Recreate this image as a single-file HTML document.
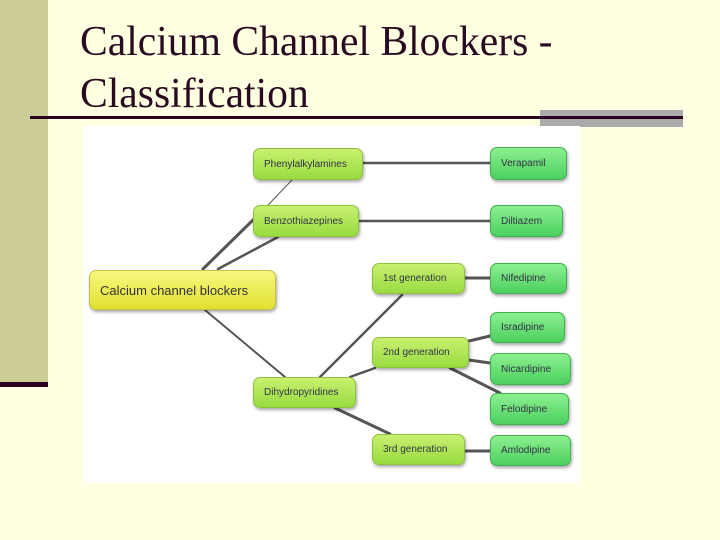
<!DOCTYPE html>
<html><head><style>
body{margin:0;width:720px;height:540px;background:#ffffe1;position:relative;overflow:hidden;font-family:"Liberation Sans",sans-serif}
.a{position:absolute}
.t{position:absolute;left:80px;font-family:"Liberation Serif",serif;font-size:40px;color:#2a0a22;white-space:nowrap;transform:scale(1.04,1.06);transform-origin:left top}
.b{position:absolute;box-sizing:border-box;border-radius:7px;font-size:10px;color:#334;padding-left:10px;display:flex;align-items:center;box-shadow:1px 2px 3px rgba(0,0,0,.35)}
.y{background:linear-gradient(#f8f880,#e0e030);border:1px solid #c8c040}
.g{background:linear-gradient(#c8f070,#98dc40);border:1px solid #90c040}
.G{background:linear-gradient(#8cf090,#4cd060);border:1px solid #40b050}
</style></head><body>
<div class="a" style="left:0;top:0;width:48px;height:382px;background:#cccc99"></div>
<div class="a" style="left:0;top:382px;width:48px;height:5px;background:#2a0022"></div>
<div class="t" style="top:16px">Calcium Channel Blockers -</div>
<div class="t" style="top:68px">Classification</div>
<div class="a" style="left:540px;top:110px;width:143px;height:17px;background:#aaaaaa"></div>
<div class="a" style="left:30px;top:116px;width:653px;height:3px;background:#2a0022"></div>
<div class="a" style="left:84px;top:126px;width:496px;height:357px;background:#fff"></div>
<svg class="a" style="left:0;top:0" width="720" height="540">
<g stroke="#555" fill="none" stroke-linecap="round">
<line x1="203" y1="269" x2="253" y2="220" stroke-width="3"/>
<line x1="218" y1="269" x2="278" y2="237" stroke-width="2.5"/>
<line x1="268" y1="205" x2="292" y2="180" stroke-width="1"/>
<line x1="205" y1="310" x2="285" y2="377" stroke-width="2"/>
<line x1="363" y1="163" x2="490" y2="163" stroke-width="2.5"/>
<line x1="359" y1="221" x2="490" y2="221" stroke-width="2.5"/>
<line x1="320" y1="377" x2="402" y2="295" stroke-width="2.5"/>
<line x1="350" y1="377" x2="375" y2="368" stroke-width="2.5"/>
<line x1="335" y1="408" x2="390" y2="434" stroke-width="3"/>
<line x1="465" y1="278" x2="490" y2="278" stroke-width="3"/>
<line x1="469" y1="341" x2="490" y2="336" stroke-width="3"/>
<line x1="469" y1="360" x2="490" y2="363" stroke-width="3"/>
<line x1="450" y1="368" x2="500" y2="393" stroke-width="3"/>
<line x1="465" y1="451" x2="490" y2="451" stroke-width="3"/>
</g></svg>
<div class="b y" style="left:89px;top:270px;width:187px;height:40px;font-size:13px;color:#333">Calcium channel blockers</div>
<div class="b g" style="left:253px;top:148px;width:110px;height:32px">Phenylalkylamines</div>
<div class="b g" style="left:253px;top:205px;width:106px;height:32px">Benzothiazepines</div>
<div class="b g" style="left:253px;top:377px;width:103px;height:31px">Dihydropyridines</div>
<div class="b g" style="left:372px;top:263px;width:93px;height:31px">1st generation</div>
<div class="b g" style="left:372px;top:337px;width:97px;height:31px">2nd generation</div>
<div class="b g" style="left:372px;top:434px;width:93px;height:31px">3rd generation</div>
<div class="b G" style="left:490px;top:147px;width:77px;height:33px">Verapamil</div>
<div class="b G" style="left:490px;top:205px;width:73px;height:32px">Diltiazem</div>
<div class="b G" style="left:490px;top:263px;width:77px;height:31px">Nifedipine</div>
<div class="b G" style="left:490px;top:312px;width:75px;height:31px">Isradipine</div>
<div class="b G" style="left:490px;top:353px;width:81px;height:32px">Nicardipine</div>
<div class="b G" style="left:490px;top:393px;width:79px;height:32px">Felodipine</div>
<div class="b G" style="left:490px;top:435px;width:81px;height:31px">Amlodipine</div>
</body></html>
